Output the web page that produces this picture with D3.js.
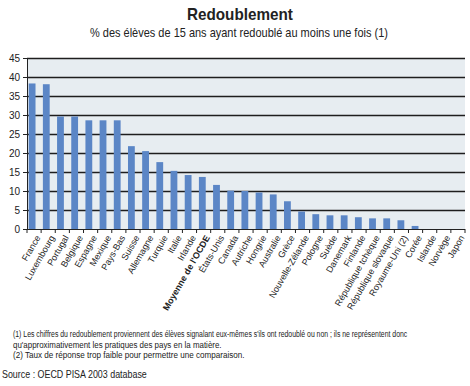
<!DOCTYPE html>
<html>
<head>
<meta charset="utf-8">
<script src="https://cdn.jsdelivr.net/npm/d3@7"></script>
<style>
  body { margin: 0; background: #fff; }
  svg text { font-family: "Liberation Sans", Arial, sans-serif; }
</style>
</head>
<body>
<div id="chart"></div>
<script>
const countries = ["France","Luxembourg","Portugal","Belgique","Espagne","Mexique","Pays-Bas","Suisse",
  "Allemagne","Turquie","Italie","Irlande","Moyenne de l'OCDE","États-Unis","Canada","Autriche","Hongrie",
  "Australie","Grèce","Nouvelle-Zélande","Pologne","Suède","Danemark","Finlande","République tchèque",
  "République slovaque","Royaume-Uni (2)","Corée","Islande","Norvège","Japon"];
const values = [38.3,38.1,29.6,29.6,28.6,28.6,28.6,21.8,20.5,17.6,15.3,14.2,13.7,11.6,10.1,10.0,9.6,
  9.1,7.3,4.6,3.9,3.6,3.6,3.1,2.8,2.8,2.3,0.8,0,0,0];
const yTicks = [0,5,10,15,20,25,30,35,40,45];
const notes = [
  "(1) Les chiffres du redoublement proviennent des élèves signalant eux-mêmes s'ils ont redoublé ou non ; ils ne représentent donc",
  "qu'approximativement les pratiques des pays en la matière.",
  "(2) Taux de réponse trop faible pour permettre une comparaison."
];
const noteLengths = [395, 209, 232];

const W = 470, H = 386;
const margin = {top:58, right:5, bottom:157, left:27};
const width = W - margin.left - margin.right;
const height = H - margin.top - margin.bottom;

const svg = d3.select("#chart").append("svg")
    .attr("width", W)
    .attr("height", H);

const chart = svg.append("g")
    .attr("transform", "translate(" + margin.left + "," + margin.top + ")");

// texte compressé horizontalement (police étroite)
function narrowText(parent, str, x0, y0, target, size, weight) {
  const t = parent.append("text")
      .attr("font-size", size)
      .attr("font-weight", weight || "normal")
      .attr("fill", "#222")
      .text(str);
  const k = target / t.node().getComputedTextLength();
  t.attr("transform", "translate(" + x0 + "," + y0 + ") scale(" + k + ",1)");
  return t;
}

const x = d3.scaleBand()
    .domain(countries)
    .range([0, width])
    .paddingInner(0.52)
    .paddingOuter(0.2)
    .align(0.3);

const y = d3.scaleLinear()
    .domain([0, 45])
    .range([height, 0]);

// fond
chart.append("rect")
    .attr("width", width)
    .attr("height", height)
    .attr("fill", "#e7edf1");

// grille
chart.append("g")
    .selectAll("line")
    .data(yTicks.filter(d => d > 0))
    .enter().append("line")
    .attr("x1", 0)
    .attr("x2", width)
    .attr("y1", d => Math.round(y(d)) + 0.5)
    .attr("y2", d => Math.round(y(d)) + 0.5)
    .attr("stroke", "#1e1e1e")
    .attr("stroke-width", 1.3);

chart.append("g")
    .selectAll("rect")
    .data(values)
    .enter().append("rect")
    .attr("x", (d, i) => x(countries[i]))
    .attr("y", d => y(d))
    .attr("width", x.bandwidth())
    .attr("height", d => height - y(d))
    .attr("fill", "#5b86c6");

// axe y
const yAxis = chart.append("g")
    .call(d3.axisLeft(y).tickValues(yTicks).tickSize(4).tickSizeOuter(0));
yAxis.select(".domain").attr("stroke", "#222");
yAxis.selectAll("line").attr("stroke", "#222");
yAxis.selectAll("text")
    .attr("font-size", 10)
    .attr("fill", "#222")
    .attr("x", -7);

// axe x (ticks entre les barres)
const step = width / countries.length;
const xg = chart.append("g").attr("transform", "translate(0," + height + ")");
xg.append("line")
    .attr("x1", 0).attr("x2", width)
    .attr("y1", 0.5).attr("y2", 0.5)
    .attr("stroke", "#222");
xg.selectAll(".tk")
    .data(d3.range(countries.length + 1))
    .enter().append("line")
    .attr("x1", d => d * step).attr("x2", d => d * step)
    .attr("y1", 0).attr("y2", 4)
    .attr("stroke", "#222");

xg.selectAll(".lbl")
    .data(countries)
    .enter().append("text")
    .attr("transform", (d, i) => "translate(" + ((i + 0.5) * step + 4) + ",7) rotate(-60)")
    .attr("text-anchor", "end")
    .attr("dy", "0.35em")
    .attr("font-size", 9)
    .attr("font-weight", d => d === "Moyenne de l'OCDE" ? "bold" : "normal")
    .attr("fill", "#222")
    .text(d => d);

// titres
narrowText(svg, "Redoublement", 187, 20, 106, 17, "bold");
narrowText(svg, "% des élèves de 15 ans ayant redoublé au moins une fois (1)", 90, 37, 298, 12);

// notes
notes.forEach((n, i) => narrowText(svg, n, 13, 337 + i * 10.5, noteLengths[i], 9));

narrowText(svg, "Source : OECD PISA 2003 database", 2, 378, 145, 10);
</script>
</body>
</html>
